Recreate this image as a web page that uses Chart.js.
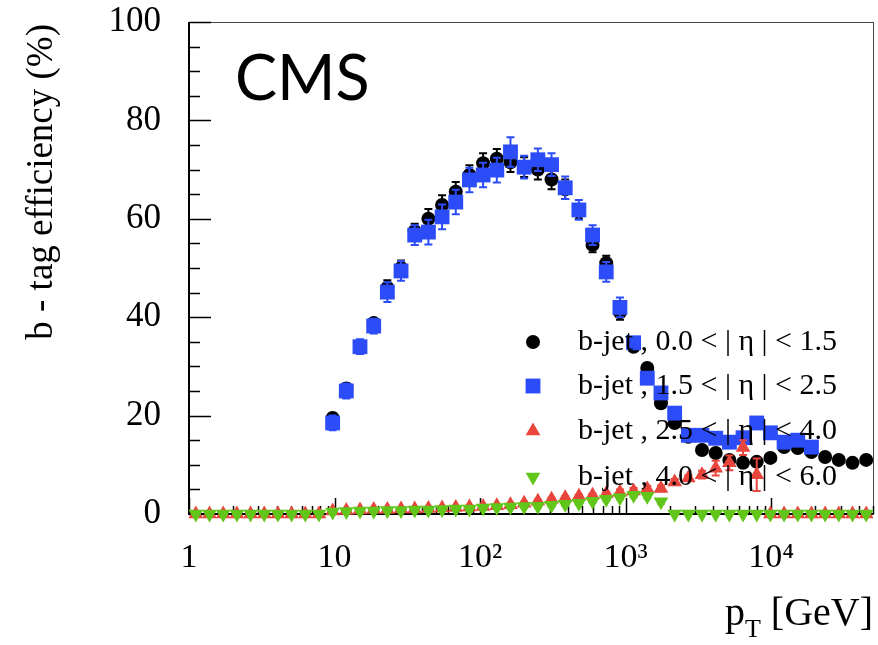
<!DOCTYPE html>
<html>
<head>
<meta charset="utf-8">
<script src="https://cdn.jsdelivr.net/npm/chart.js@4.4.1/dist/chart.umd.min.js"></script>
<style>
html, body { margin: 0; padding: 0; background: #fff; }
canvas { display: block; }
</style>
</head>
<body>
<canvas id="myChart" width="878" height="645"></canvas>
<script>
// bin centres, pT in GeV (50 log bins from 1 to 5e4)
const ptBins = [1.114, 1.383, 1.718, 2.133, 2.648, 3.288, 4.082, 5.068, 6.293, 7.813,
  9.700, 12.04, 14.95, 18.57, 23.05, 28.62, 35.53, 44.12, 54.78, 68.01,
  84.45, 104.8, 130.2, 161.6, 200.7, 249.2, 309.4, 384.1, 476.9, 592.2,
  735.2, 912.9, 1133, 1407, 1747, 2169, 2693, 3344, 4152, 5155,
  6400, 7947, 9866, 12250, 15210, 18880, 23450, 29110, 36150, 44880];

const effBarrel = [null, null, null, null, null, null, null, null, null, null,
  19.5, 25.5, 34.2, 38.8, 46.0, 50.0, 57.5, 60.0, 62.8, 65.5,
  68.9, 71.3, 72.2, 71.5, 70.5, 70.0, 68.0, 66.0, 61.5, 54.7,
  51.0, 41.0, 34.0, 29.7, 22.5, 18.5, 15.7, 13.0, 12.4, 11.0,
  10.4, 10.6, 11.4, 13.6, 13.4, 12.6, 11.6, 11.0, 10.4, 11.0];
const errBarrel = [0, 0, 0, 0, 0, 0, 0, 0, 0, 0,
  1.0, 1.0, 1.0, 1.0, 1.5, 1.5, 1.5, 2.0, 2.0, 2.0,
  2.0, 2.0, 2.0, 2.0, 2.0, 2.0, 2.0, 2.0, 1.5, 1.5,
  1.5, 1.5, 0.8, 0.8, 0.8, 0.8, 0.8, 0.8, 0.8, 0.8,
  0.8, 0.8, 0.8, 0.8, 0.8, 0.8, 0.8, 0.8, 0.8, 0.8];

const effEndcap = [null, null, null, null, null, null, null, null, null, null,
  18.5, 25.0, 34.0, 38.2, 45.1, 49.4, 56.7, 57.3, 60.4, 63.4,
  67.9, 68.9, 69.9, 73.6, 70.5, 72.0, 71.0, 66.3, 61.8, 56.7,
  49.2, 42.0, 34.8, 27.6, 24.6, 20.5, 16.0, 16.0, 15.4, 14.6,
  15.5, 18.5, 16.5, 14.6, 15.0, 13.6, null, null, null, null];
const errEndcap = [0, 0, 0, 0, 0, 0, 0, 0, 0, 0,
  1.5, 1.5, 1.5, 1.5, 2.0, 2.0, 2.0, 2.5, 2.5, 2.5,
  2.5, 2.5, 2.5, 3.0, 2.3, 2.3, 2.3, 2.3, 2.0, 2.0,
  2.0, 2.0, 1.0, 1.0, 1.0, 1.0, 1.0, 1.0, 1.0, 1.0,
  1.0, 1.0, 1.0, 1.0, 1.0, 1.0, 0, 0, 0, 0];

const effForward = [0, 0, 0, 0, 0, 0, 0, 0, 0, 0,
  0.6, 0.7, 0.8, 0.9, 0.9, 1.0, 1.0, 1.1, 1.2, 1.3,
  1.4, 1.5, 1.7, 1.9, 2.2, 2.6, 3.0, 3.3, 3.6, 3.8,
  4.1, 4.4, 4.7, 5.1, 5.2, 6.5, 7.3, 8.0, 9.3, 10.4,
  13.5, 8.0, 0, 0, 0, 0, 0, 0, 0, 0];
const errForward = [0, 0, 0, 0, 0, 0, 0, 0, 0, 0,
  0.3, 0.3, 0.3, 0.3, 0.3, 0.3, 0.3, 0.3, 0.3, 0.3,
  0.3, 0.3, 0.3, 0.3, 0.3, 0.3, 0.3, 0.3, 0.3, 0.3,
  0.3, 0.6, 0.6, 0.6, 0.6, 0.6, 0.6, 0.8, 1.5, 1.5,
  1.5, 3.3, 0, 0, 0, 0, 0, 0, 0, 0];

const effVeryFwd = [0, 0, 0, 0, 0, 0, 0, 0, 0, 0,
  0.4, 0.5, 0.6, 0.6, 0.7, 0.7, 0.8, 0.8, 0.9, 1.0,
  1.0, 1.2, 1.3, 1.4, 1.5, 1.6, 1.8, 2.0, 2.2, 2.6,
  3.0, 3.3, 3.8, 3.6, 2.5, 0, 0, 0, 0, 0,
  0, 0, 0, 0, 0, 0, 0, 0, 0, 0];
const errVeryFwd = [0, 0, 0, 0, 0, 0, 0, 0, 0, 0,
  0.3, 0.3, 0.3, 0.3, 0.3, 0.3, 0.3, 0.3, 0.3, 0.3,
  0.3, 0.3, 0.3, 0.3, 0.3, 0.3, 0.3, 0.3, 0.3, 0.3,
  0.3, 0.3, 0.4, 0.4, 0.4, 0, 0, 0, 0, 0,
  0, 0, 0, 0, 0, 0, 0, 0, 0, 0];

const seriesLabels = ['b-jet , 0.0 < | \u03b7 | < 1.5', 'b-jet , 1.5 < | \u03b7 | < 2.5',
  'b-jet , 2.5 < | \u03b7 | < 4.0', 'b-jet , 4.0 < | \u03b7 | < 6.0'];
const xTicks = [1, 10, 100, 1000, 10000];
const xTickLabels = ['1', '10', '10\u00b2', '10\u00b3', '10\u2074'];
const yTicks = [0, 20, 40, 60, 80, 100];

const serif = 'Liberation Serif';

function points(vals) {
  return ptBins.map((p, i) => ({x: p, y: vals[i]}));
}

// error bars drawn under each dataset's markers
const errorBars = {
  id: 'errorBars',
  beforeDatasetDraw(chart, args) {
    const ds = chart.data.datasets[args.index];
    const y = chart.scales.y;
    const ctx = chart.ctx;
    ctx.save();
    ctx.strokeStyle = ds.backgroundColor;
    ctx.lineWidth = 2;
    args.meta.data.forEach((pt, i) => {
      const v = ds.data[i].y;
      const e = ds.errors[i];
      if (v === null || !e) return;
      const y1 = y.getPixelForValue(v + e), y2 = y.getPixelForValue(v - e);
      ctx.beginPath();
      ctx.moveTo(pt.x, y1); ctx.lineTo(pt.x, y2);
      ctx.moveTo(pt.x - 4, y1); ctx.lineTo(pt.x + 4, y1);
      ctx.moveTo(pt.x - 4, y2); ctx.lineTo(pt.x + 4, y2);
      ctx.stroke();
    });
    ctx.restore();
  }
};

// ROOT style frame, inward ticks, titles, legend
const rootStyle = {
  id: 'rootStyle',
  beforeDatasetsDraw(chart) {
    const {ctx, chartArea: a, scales: {x, y}} = chart;
    ctx.save();
    ctx.strokeStyle = '#444';
    ctx.lineWidth = 1;
    ctx.strokeRect(a.left + 0.5, a.top + 0.5, a.right - a.left, a.bottom - a.top);
    ctx.strokeStyle = '#000';
    ctx.lineWidth = 2;
    ctx.beginPath();
    ctx.moveTo(a.left, a.top); ctx.lineTo(a.left, a.bottom); ctx.lineTo(a.right, a.bottom);
    ctx.stroke();
    ctx.lineWidth = 1.5;
    for (let v = 0; v <= 100; v += 5) {
      const py = Math.round(y.getPixelForValue(v)) + 0.5;
      const len = yTicks.includes(v) ? 22 : 11;
      ctx.beginPath(); ctx.moveTo(a.left, py); ctx.lineTo(a.left + len, py); ctx.stroke();
    }
    for (const d of xTicks) {
      for (let m = 1; m <= 9; m++) {
        const v = d * m;
        if (v > x.max) break;
        const px = Math.round(x.getPixelForValue(v)) + 0.5;
        const len = m === 1 ? 16 : 8;
        ctx.beginPath(); ctx.moveTo(px, a.bottom); ctx.lineTo(px, a.bottom - len); ctx.stroke();
      }
    }
    ctx.restore();
  },
  afterDraw(chart) {
    const {ctx, chartArea: a} = chart;
    ctx.save();
    ctx.fillStyle = '#000';
    // y title
    ctx.save();
    ctx.translate(52, a.top + 2);
    ctx.rotate(-Math.PI / 2);
    ctx.font = '37px ' + serif;
    ctx.textAlign = 'right';
    ctx.textBaseline = 'alphabetic';
    ctx.fillText('b - tag efficiency (%)', 0, 0);
    ctx.restore();
    // x title
    ctx.font = '40px ' + serif;
    ctx.textBaseline = 'alphabetic';
    ctx.textAlign = 'left';
    const tail = ' [GeV]';
    const wTail = ctx.measureText(tail).width;
    const wP = ctx.measureText('p').width;
    ctx.font = '26px ' + serif;
    const wT = ctx.measureText('T').width;
    const xEnd = a.right;
    ctx.font = '40px ' + serif;
    ctx.fillText('p', xEnd - wTail - wT - wP, 625);
    ctx.fillText(tail, xEnd - wTail, 625);
    ctx.font = '26px ' + serif;
    ctx.fillText('T', xEnd - wTail - wT, 637);
    // CMS
    ctx.font = '63px Lato';
    ctx.fillText('CMS', 235, 100);
    // legend
    const rows = [342, 386, 431, 477];
    chart.data.datasets.forEach((ds, i) => {
      ctx.fillStyle = ds.backgroundColor;
      ctx.strokeStyle = ds.backgroundColor;
      Chart.helpers.drawPoint(ctx, {
        pointStyle: ds.pointStyle, rotation: ds.pointRotation || 0,
        radius: ds.pointRadius, borderWidth: 0
      }, 533, rows[i]);
      ctx.fillStyle = '#000';
      ctx.font = '30px ' + serif;
      ctx.textBaseline = 'middle';
      ctx.fillText(seriesLabels[i], 578, rows[i]);
    });
    ctx.restore();
  }
};

const ctx = document.getElementById('myChart');
const myChart = new Chart(ctx, {
  type: 'scatter',
  data: {
    datasets: [
      {label: seriesLabels[0], data: points(effBarrel), errors: errBarrel,
        backgroundColor: '#000000', borderColor: '#000000', pointStyle: 'circle',
        pointRadius: 7, borderWidth: 0, order: 4, clip: false},
      {label: seriesLabels[1], data: points(effEndcap), errors: errEndcap,
        backgroundColor: '#2b4cf7', borderColor: '#2b4cf7', pointStyle: 'rect',
        pointRadius: 10.5, borderWidth: 0, order: 3, clip: false},
      {label: seriesLabels[2], data: points(effForward), errors: errForward,
        backgroundColor: '#e8453c', borderColor: '#e8453c', pointStyle: 'triangle',
        pointRadius: 8.5, borderWidth: 0, order: 2, clip: false},
      {label: seriesLabels[3], data: points(effVeryFwd), errors: errVeryFwd,
        backgroundColor: '#62c61a', borderColor: '#62c61a', pointStyle: 'triangle',
        pointRotation: 180, pointRadius: 8.5, borderWidth: 0, order: 1, clip: false}
    ]
  },
  options: {
    responsive: false,
    animation: false,
    layout: {autoPadding: false, padding: {top: 22, right: 5, left: 0, bottom: 0}},
    plugins: {legend: {display: false}, tooltip: {enabled: false}},
    scales: {
      x: {
        type: 'logarithmic',
        min: 1,
        max: 50000,
        grid: {display: false},
        border: {display: false},
        afterBuildTicks: (scale) => { scale.ticks = xTicks.map(v => ({value: v})); },
        afterFit: (scale) => {
          scale.height = 131;
          scale.paddingLeft = 0; scale.paddingRight = 0;
        },
        ticks: {
          autoSkip: false, maxRotation: 0, padding: 16, color: '#000',
          font: {family: serif, size: 34},
          callback: (v, i) => xTickLabels[i]
        }
      },
      y: {
        min: 0,
        max: 100,
        grid: {display: false, drawTicks: false},
        border: {display: false},
        afterBuildTicks: (scale) => { scale.ticks = yTicks.map(v => ({value: v})); },
        afterFit: (scale) => {
          scale.width = 189;
          scale.paddingTop = 0; scale.paddingBottom = 0;
        },
        ticks: {padding: 28, color: '#000', font: {family: serif, size: 35}}
      }
    }
  },
  plugins: [errorBars, rootStyle]
});
</script>
</body>
</html>
